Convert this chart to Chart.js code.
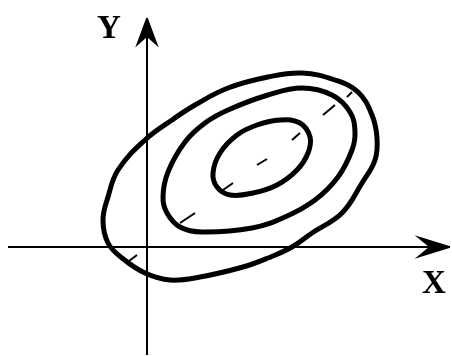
<!DOCTYPE html>
<html>
<head>
<meta charset="utf-8">
<script src="https://cdn.jsdelivr.net/npm/chart.js@4/dist/chart.umd.min.js"></script>
<style>
  html, body { margin: 0; padding: 0; background: #fff; }
  #canvas { width: 452px; height: 356px; }
</style>
</head>
<body>
<div id="canvas"><canvas id="myChart" width="452" height="356"></canvas></div>
<script>
// contour rings, points traced around each ring (x right, y up, origin at the axes)
const outerRing = [
    [-44, 27], [-39, 50], [-29, 77], [-2, 107], [25, 127], [48, 142], [81, 159],
    [121, 170], [155, 174], [188, 167], [211, 155], [225, 132], [230, 109], [228, 87],
    [215, 64], [195, 34], [165, 14], [145, 0], [121, -11], [96, -20], [53, -30],
    [23, -33], [-2, -26], [-25, -11], [-39, 4]
];
const middleRing = [
    [16, 50], [21, 75], [38, 105], [58, 124], [81, 137], [121, 152], [155, 159],
    [185, 152], [203, 135], [208, 115], [205, 97], [191, 70], [168, 47], [138, 30],
    [105, 19], [55, 15], [33, 20], [20, 34]
];
const innerRing = [
    [66, 74], [73, 94], [90, 112], [110, 122], [133, 127], [153, 124], [163, 110],
    [161, 94], [150, 77], [130, 62], [106, 54], [83, 52], [70, 60]
];

// short dashes along the main diagonal (pairs of end points)
const dashMarks = [
    [[-18, -14], [-10, -8]],
    [[33, 24], [48, 34]],
    [[76, 57], [86, 64]],
    [[110, 82], [120, 88]],
    [[145, 107], [153, 114]],
    [[176, 132], [188, 142]],
    [[200, 150], [205, 155]]
];

// axes and arrow heads
const xAxisLine = [[-139, 0], [290, 0]];
const yAxisLine = [[0, -108], [0, 218]];
const xArrowHead = [[303, 0], [271, 10], [283, 0], [271, -10], [303, 0]];
const yArrowHead = [[0, 229], [-10, 202], [0, 211], [10, 202], [0, 229]];

const axisLabels = [
    { text: 'Y', at: [-38, 209] },
    { text: 'X', at: [287, -46] }
];

const toXY = pts => pts.map(p => ({ x: p[0], y: p[1] }));

function ring(pts, width) {
    return {
        data: toXY(pts),
        closed: true,
        showLine: true,
        borderColor: '#000',
        borderWidth: width,
        tension: 0.4,
        pointRadius: 0,
        fill: false
    };
}

function segment(pts, width, filled) {
    return {
        data: toXY(pts),
        showLine: true,
        borderColor: '#000',
        backgroundColor: '#000',
        borderWidth: width,
        tension: 0,
        pointRadius: 0,
        fill: filled ? 'shape' : false
    };
}

const data = {
    datasets: [
        segment(xAxisLine, 2, false),
        segment(yAxisLine, 2, false),
        segment(xArrowHead, 1.5, true),
        segment(yArrowHead, 1.5, true),
        ...dashMarks.map(d => segment(d, 2, false)),
        ring(outerRing, 5),
        ring(middleRing, 5),
        ring(innerRing, 5)
    ]
};

// make rings wrap around so the curve closes smoothly
const closedCurves = {
    id: 'closedCurves',
    afterDatasetUpdate(chart, args) {
        if (chart.data.datasets[args.index].closed) {
            args.meta.dataset._loop = true;
            args.meta.dataset._fullLoop = true;
        }
    }
};

const axisText = {
    id: 'axisText',
    afterDraw(chart) {
        const ctx = chart.ctx;
        const xs = chart.scales.x, ys = chart.scales.y;
        ctx.save();
        ctx.fillStyle = '#000';
        ctx.font = 'bold 33px "Liberation Serif", "DejaVu Serif", serif';
        ctx.textAlign = 'center';
        ctx.textBaseline = 'alphabetic';
        axisLabels.forEach(l => {
            ctx.fillText(l.text, xs.getPixelForValue(l.at[0]), ys.getPixelForValue(l.at[1]));
        });
        ctx.restore();
    }
};

const options = {
    responsive: false,
    animation: false,
    layout: { padding: 0 },
    scales: {
        x: { type: 'linear', min: -147, max: 305, display: false },
        y: { type: 'linear', min: -109, max: 247, display: false }
    },
    plugins: {
        legend: { display: false },
        tooltip: { enabled: false }
    }
};

const canvas = document.getElementById('myChart');
const ctx = canvas.getContext('2d');

const myChart = new Chart(ctx, {
    type: 'scatter',
    data: data,
    options: options,
    plugins: [closedCurves, axisText]
});
</script>
</body>
</html>
